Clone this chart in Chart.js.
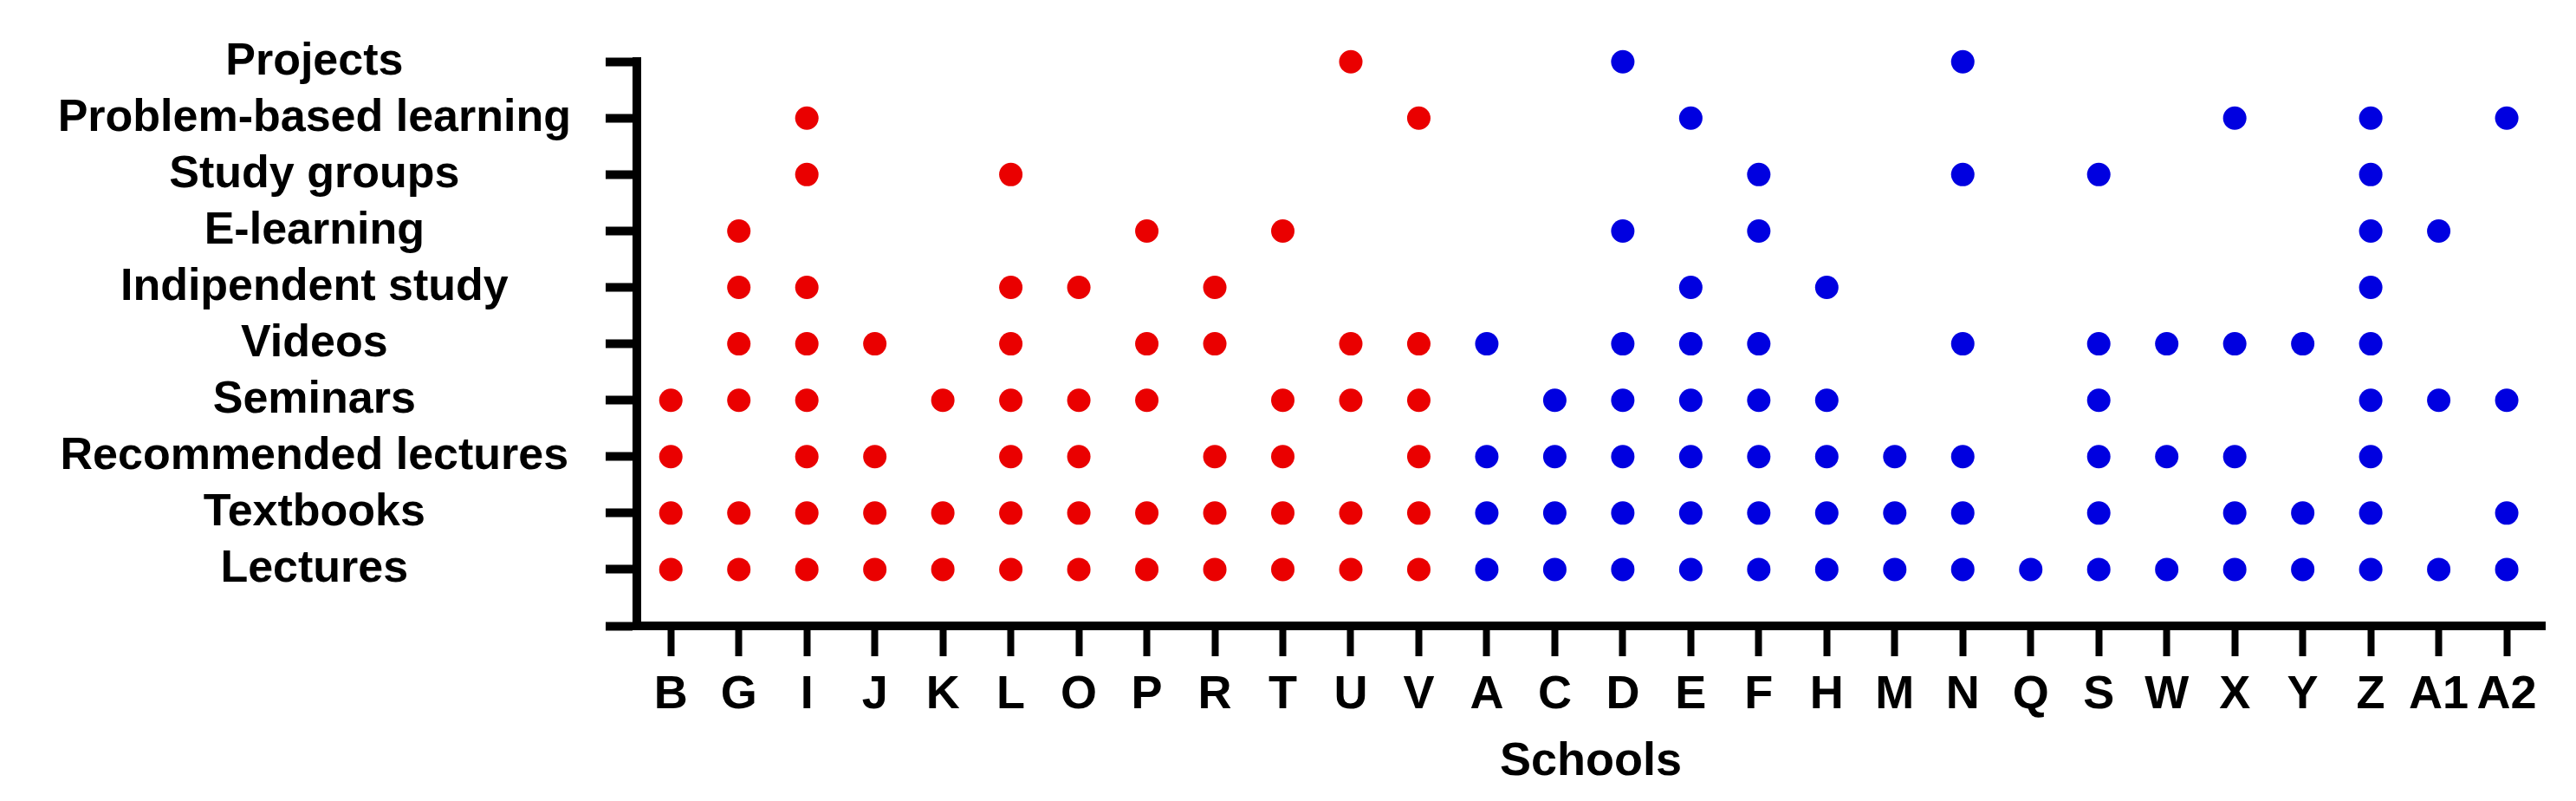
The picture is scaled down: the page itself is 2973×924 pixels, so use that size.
<!DOCTYPE html>
<html>
<head>
<meta charset="utf-8">
<script src="https://cdn.jsdelivr.net/npm/chart.js@4.4.1/dist/chart.umd.min.js"></script>
<style>
  body { margin: 0; background: #fff; }
</style>
</head>
<body>
<canvas id="schoolsChart" width="2973" height="924"></canvas>
<script>
// Schools on the x axis: red group first, then blue group
const redSchools = ['B', 'G', 'I', 'J', 'K', 'L', 'O', 'P', 'R', 'T', 'U', 'V'];
const blueSchools = ['A', 'C', 'D', 'E', 'F', 'H', 'M', 'N', 'Q', 'S', 'W', 'X', 'Y', 'Z', 'A1', 'A2'];
const schools = redSchools.concat(blueSchools);

// Teaching methods, bottom to top
const methods = ['Lectures', 'Textbooks', 'Recommended lectures', 'Seminars', 'Videos',
  'Indipendent study', 'E-learning', 'Study groups', 'Problem-based learning', 'Projects'];

// Which schools use each method
const lectures = ['B', 'G', 'I', 'J', 'K', 'L', 'O', 'P', 'R', 'T', 'U', 'V',
  'A', 'C', 'D', 'E', 'F', 'H', 'M', 'N', 'Q', 'S', 'W', 'X', 'Y', 'Z', 'A1', 'A2'];
const textbooks = ['B', 'G', 'I', 'J', 'K', 'L', 'O', 'P', 'R', 'T', 'U', 'V',
  'A', 'C', 'D', 'E', 'F', 'H', 'M', 'N', 'S', 'X', 'Y', 'Z', 'A2'];
const recommendedLectures = ['B', 'I', 'J', 'L', 'O', 'R', 'T', 'V',
  'A', 'C', 'D', 'E', 'F', 'H', 'M', 'N', 'S', 'W', 'X', 'Z'];
const seminars = ['B', 'G', 'I', 'K', 'L', 'O', 'P', 'T', 'U', 'V',
  'C', 'D', 'E', 'F', 'H', 'S', 'Z', 'A1', 'A2'];
const videos = ['G', 'I', 'J', 'L', 'P', 'R', 'U', 'V',
  'A', 'D', 'E', 'F', 'N', 'S', 'W', 'X', 'Y', 'Z'];
const indipendentStudy = ['G', 'I', 'L', 'O', 'R', 'E', 'H', 'Z'];
const eLearning = ['G', 'P', 'T', 'D', 'F', 'Z', 'A1'];
const studyGroups = ['I', 'L', 'F', 'N', 'S', 'Z'];
const problemBased = ['I', 'V', 'E', 'X', 'Z', 'A2'];
const projects = ['U', 'D', 'N'];

const methodSchools = [lectures, textbooks, recommendedLectures, seminars, videos,
  indipendentStudy, eLearning, studyGroups, problemBased, projects];

// turn the lists into scatter points for one group of schools
function buildPoints(group) {
    const pts = [];
    methodSchools.forEach((list, m) => {
        list.forEach(s => {
            if (group.includes(s)) {
                pts.push({ x: schools.indexOf(s), y: m });
            }
        });
    });
    return pts;
}

const fontFamily = "'Liberation Sans', Arial, Helvetica, sans-serif";

new Chart(document.getElementById('schoolsChart').getContext('2d'), {
    type: 'scatter',
    data: {
        datasets: [{
            data: buildPoints(redSchools),
            backgroundColor: '#ea0000',
            borderColor: '#ea0000',
            pointRadius: 13.5,
            borderWidth: 0
        }, {
            data: buildPoints(blueSchools),
            backgroundColor: '#0000e0',
            borderColor: '#0000e0',
            pointRadius: 13.5,
            borderWidth: 0
        }]
    },
    options: {
        responsive: false,
        animation: false,
        clip: false,
        layout: { padding: { top: 52, right: 36, left: 0, bottom: 0 } },
        plugins: {
            legend: { display: false },
            tooltip: { enabled: false }
        },
        scales: {
            x: {
                type: 'linear',
                min: -0.5,
                max: 27.56,
                afterBuildTicks: axis => {
                    axis.ticks = schools.map((s, i) => ({ value: i }));
                },
                afterFit: axis => { axis.height = 202; },
                ticks: {
                    callback: (v, i) => schools[i],
                    autoSkip: false,
                    maxRotation: 0,
                    minRotation: 0,
                    padding: 13,
                    color: '#000',
                    font: { family: fontFamily, size: 54, weight: 'bold' }
                },
                grid: {
                    drawOnChartArea: false,
                    tickLength: 35,
                    tickWidth: 8,
                    tickColor: '#000'
                },
                border: { color: '#000', width: 10 },
                title: {
                    display: true,
                    text: 'Schools',
                    color: '#000',
                    padding: { top: 0, bottom: 12 },
                    font: { family: fontFamily, size: 54, weight: 'bold' }
                }
            },
            y: {
                type: 'linear',
                min: -1,
                max: 9,
                afterBuildTicks: axis => {
                    const t = [];
                    for (let v = -1; v <= 9; v++) t.push({ value: v });
                    axis.ticks = t;
                },
                afterFit: axis => { axis.width = 735; },
                ticks: {
                    callback: v => methods[v] || '',
                    autoSkip: false,
                    crossAlign: 'center',
                    padding: 40,
                    color: '#000',
                    font: { family: fontFamily, size: 52, weight: 'bold' }
                },
                grid: {
                    drawOnChartArea: false,
                    tickLength: 36,
                    tickWidth: 10,
                    tickColor: '#000'
                },
                border: { color: '#000', width: 10 }
            }
        }
    }
});
</script>
</body>
</html>
